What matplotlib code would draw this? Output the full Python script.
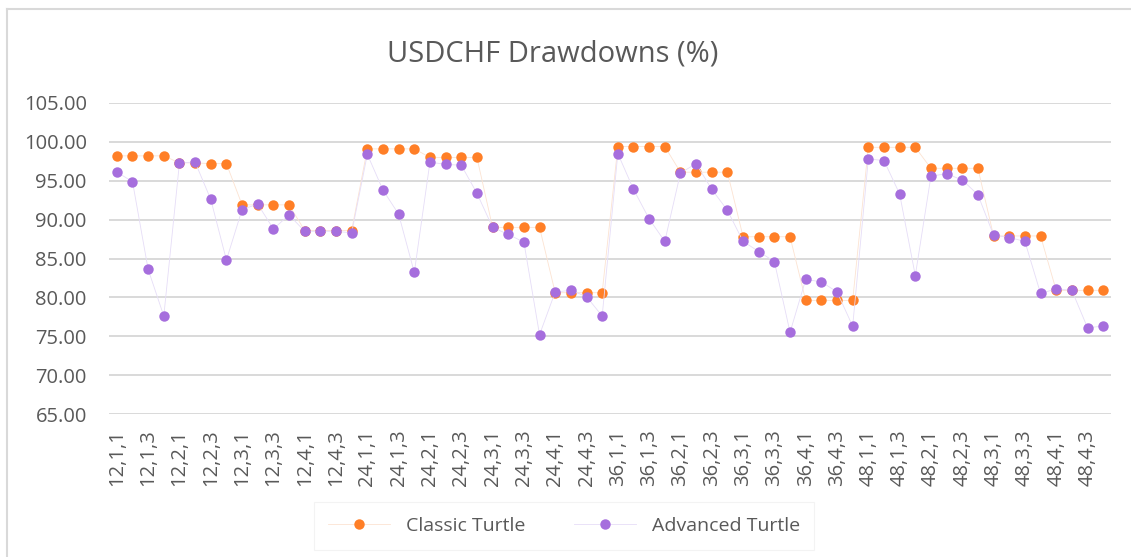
import matplotlib.pyplot as plt
from matplotlib.lines import Line2D

plt.rcParams['font.family'] = ['Open Sans', 'DejaVu Sans']

# Categorias: periodo, entrada, salida
periodos = [12, 24, 36, 48]
categorias = [f"{p},{a},{b}" for p in periodos for a in range(1, 5) for b in range(1, 5)]

classic = [
    98.2, 98.2, 98.2, 98.2, 97.3, 97.3, 97.2, 97.2,
    91.9, 91.9, 91.9, 91.9, 88.6, 88.6, 88.6, 88.6,
    99.1, 99.1, 99.1, 99.1, 98.0, 98.0, 98.0, 98.0,
    89.0, 89.0, 89.0, 89.0, 80.6, 80.6, 80.6, 80.6,
    99.4, 99.4, 99.4, 99.4, 96.1, 96.1, 96.1, 96.1,
    87.8, 87.8, 87.8, 87.8, 79.6, 79.6, 79.6, 79.6,
    99.3, 99.3, 99.3, 99.3, 96.6, 96.6, 96.6, 96.6,
    87.9, 87.9, 87.9, 87.9, 80.9, 80.9, 80.9, 80.9,
]

advanced = [
    96.1, 94.9, 83.6, 77.6, 97.3, 97.4, 92.6, 84.8,
    91.3, 92.0, 88.8, 90.6, 88.5, 88.5, 88.5, 88.3,
    98.4, 93.8, 90.7, 83.2, 97.4, 97.1, 97.0, 93.4,
    89.0, 88.1, 87.1, 75.2, 80.7, 80.9, 80.1, 77.6,
    98.5, 93.9, 90.1, 87.2, 96.0, 97.2, 93.9, 91.2,
    87.2, 85.9, 84.6, 75.5, 82.3, 82.0, 80.7, 76.3,
    97.8, 97.6, 93.3, 82.8, 95.6, 95.9, 95.1, 93.2,
    88.0, 87.7, 87.2, 80.5, 81.1, 80.9, 76.1, 76.3,
]

naranja = '#FF7F27'
morado = '#A66EDD'
gris = '#595959'

fig = plt.figure(figsize=(11.31, 5.57), dpi=100)
ax = fig.add_axes([109 / 1131, 1 - 414 / 557, 1002 / 1131, 311 / 557])

x = list(range(len(categorias)))
# lineas muy tenues y marcadores solidos, como en el original
ax.plot(x, classic, marker='o', markersize=7.5, linewidth=0.6, color='#FCE3D2',
        markerfacecolor=naranja, markeredgewidth=0, label='Classic Turtle')
ax.plot(x, advanced, marker='o', markersize=7.5, linewidth=0.6, color='#E6DDF7',
        markerfacecolor=morado, markeredgewidth=0, label='Advanced Turtle')

ax.set_xlim(-0.5, len(categorias) - 0.5)
ax.set_ylim(65, 105)
ax.set_yticks([65, 70, 75, 80, 85, 90, 95, 100, 105])
ax.set_yticklabels([f"{v:.2f}" for v in ax.get_yticks()])
ax.set_xticks(x[::2])
ax.set_xticklabels(categorias[::2], rotation=90, va='top')
ax.tick_params(axis='both', length=0, labelsize=14.5, labelcolor=gris)
ax.tick_params(axis='x', pad=11)
ax.tick_params(axis='y', pad=16)
ax.grid(axis='y', color='#D9D9D9', linewidth=1.4)
ax.set_axisbelow(True)
for s in ax.spines.values():
    s.set_visible(False)

fig.text(553 / 1131, 1 - 54 / 557, "USDCHF Drawdowns (%)", ha='center', va='center',
         fontsize=21, color=gris)

leg = fig.legend(loc='center', bbox_to_anchor=(564 / 1131, 1 - 526 / 557), ncol=2,
                 fontsize=14, frameon=True, fancybox=False, handlelength=3.2,
                 columnspacing=2.5, borderpad=0.75, borderaxespad=0)
leg.get_frame().set_edgecolor('#F0F0F0')
leg.get_frame().set_linewidth(0.8)
for t in leg.get_texts():
    t.set_color(gris)

# borde del area del grafico (solo se ve arriba e izquierda)
fig.add_artist(Line2D([7 / 1131, 7 / 1131], [0, 1 - 9 / 557], color='#D9D9D9', linewidth=1.5))
fig.add_artist(Line2D([7 / 1131, 1], [1 - 9 / 557, 1 - 9 / 557], color='#D9D9D9', linewidth=1.5))

plt.savefig("out.png", dpi=100)
plt.close()
